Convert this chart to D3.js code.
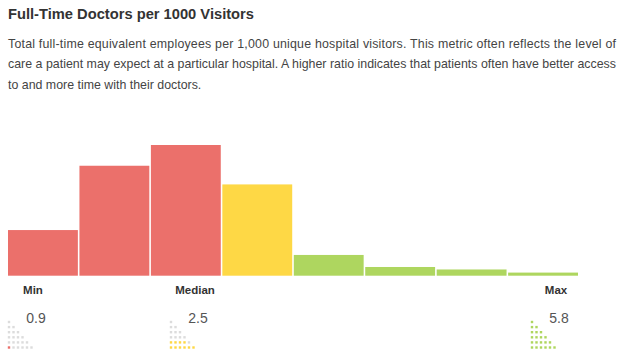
<!DOCTYPE html>
<html>
<head>
<meta charset="utf-8">
<script src="https://cdn.jsdelivr.net/npm/d3@7"></script>
<style>
  body { margin: 0; background: #fff; }
  text { font-family: "Liberation Sans", Arial, sans-serif; }
</style>
</head>
<body>
<svg id="chart"></svg>
<script>
var width = 624,
    height = 362;

// histogram bins (counts of hospitals) and their tier
var binCounts = [22, 53, 63, 44, 10, 4.2, 3, 1.5];
var binTiers = ["low", "low", "low", "mid", "high", "high", "high", "high"];

// summary stats
var statLabels = ["Min", "Median", "Max"];
var statValues = [0.9, 2.5, 5.8];
var statTiers = ["low", "mid", "high"];
var statFilled = [1, 10, 21];

var title = "Full-Time Doctors per 1000 Visitors";
var descLines = [
    "Total full-time equivalent employees per 1,000 unique hospital visitors. This metric often reflects the level of",
    "care a patient may expect at a particular hospital. A higher ratio indicates that patients often have better access",
    "to and more time with their doctors."
];

var tierColor = {low: "#eb706b", mid: "#fed845", high: "#aed65f"};

var svg = d3.select("#chart").attr("width", width).attr("height", height);

svg.append("text")
    .attr("x", 8).attr("y", 19)
    .attr("font-size", 14.7).attr("font-weight", "bold")
    .attr("fill", "#333")
    .text(title);

var desc = svg.append("g").selectAll("text")
    .data(descLines)
    .join("text")
    .attr("x", 8)
    .attr("y", (d, i) => 48 + i * 20.3)
    .attr("font-size", 13)
    .attr("fill", "#444")
    .text(d => d);

// shrink so the widest line spans like the original (~608px)
var wMax = d3.max(desc.nodes(), n => n.getComputedTextLength());
desc.attr("font-size", 13 * 607 / wMax);
// then stretch the first two lines a little to the original's right edge
desc.filter((d, i) => i < 2)
    .attr("textLength", 608)
    .attr("lengthAdjust", "spacing");

////
var x = d3.scaleBand()
    .domain(d3.range(binCounts.length))
    .range([8, 578])
    .paddingInner(0.022);

var y = d3.scaleLinear()
    .domain([0, d3.max(binCounts)])
    .range([275.7, 145]);

svg.append("g").selectAll("rect")
    .data(binCounts)
    .join("rect")
    .attr("x", (d, i) => x(i))
    .attr("y", d => y(d))
    .attr("width", x.bandwidth())
    .attr("height", d => y(0) - y(d))
    .attr("fill", (d, i) => tierColor[binTiers[i]]);

////
var iconX = [9, 171, 532];

var stats = svg.append("g").selectAll("g")
    .data(statLabels)
    .join("g")
    .attr("transform", (d, i) => "translate(" + iconX[i] + ",0)");

stats.append("text")
    .attr("x", 24).attr("y", 293.5)
    .attr("text-anchor", "middle")
    .attr("font-size", 11.5).attr("font-weight", "bold")
    .attr("fill", "#333")
    .text(d => d);

stats.append("text")
    .attr("x", 27).attr("y", 322.7)
    .attr("text-anchor", "middle")
    .attr("font-size", 14)
    .attr("fill", "#555")
    .text((d, i) => statValues[i].toFixed(1));

// triangle of dots, filled from bottom row up
var dots = [];
for (let r = 1; r <= 6; r++) {
    for (let c = 0; c < r; c++) dots.push({r: r, c: c});
}
// fill order: bottom row first
var order = dots.slice().sort((a, b) => b.r - a.r || a.c - b.c);
order.forEach((d, k) => d.k = k);

stats.each(function(s, i) {
    d3.select(this).selectAll("rect")
        .data(dots)
        .join("rect")
        .attr("x", d => d.c * 4.5 - 1.2)
        .attr("y", d => 322 + (d.r - 1) * 5.1 - 1.2)
        .attr("width", 2.4)
        .attr("height", 2.4)
        .attr("fill", d => d.k < statFilled[i] ? tierColor[statTiers[i]] : "#dcdcdc");
});
</script>
</body>
</html>
